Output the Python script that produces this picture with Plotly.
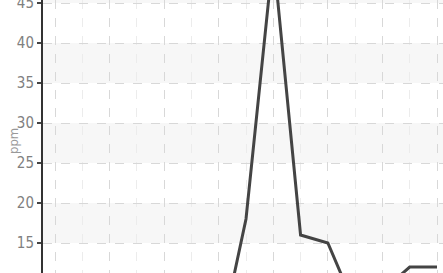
import plotly.graph_objects as go

# data (index positions along hidden x axis)
x_idx = list(range(15))
ppm = [3, 4, 3, 2, 3, 2, 2, 18, 51, 16, 15, 7, 9, 12, 12]
y_ticks = [15, 20, 25, 30, 35, 40, 45]
band_edges = [(15, 20), (25, 30), (35, 40), (45, 50), (5, 10)]

fig = go.Figure()
fig.add_trace(go.Scatter(
    x=x_idx, y=ppm, mode="lines",
    line=dict(color="#444444", width=3),
    hoverinfo="skip", showlegend=False,
))

for lo, hi in band_edges:
    fig.add_shape(type="rect", xref="paper", yref="y", x0=0, x1=1, y0=lo, y1=hi,
                  fillcolor="#f7f7f7", line_width=0, layer="below")

fig.add_annotation(text="ppm", xref="paper", yref="paper", x=-29 / 400, y=(273 - 141) / 273,
                   xanchor="center", yanchor="middle", textangle=-90, showarrow=False,
                   font=dict(size=13, color="#999999",
                             family="Liberation Sans Narrow, DejaVu Sans Condensed, sans-serif"))

fig.update_layout(
    width=443, height=273,
    margin=dict(l=43, r=0, t=0, b=0, autoexpand=False),
    paper_bgcolor="white", plot_bgcolor="white",
    font=dict(family="Liberation Sans Narrow, DejaVu Sans Condensed, sans-serif", color="#888888"),
)
fig.update_xaxes(
    range=[-0.44, 14.22], showticklabels=False, zeroline=False, automargin=False,
    tick0=0, dtick=2, showgrid=True, gridcolor="#d8d8d8", griddash="dash", gridwidth=1,
    minor=dict(tick0=1, dtick=2, showgrid=True, gridcolor="#ececec", griddash="dash", gridwidth=1),
    ticks="",
)
fig.update_yaxes(
    range=[11.25, 45.375], tickvals=y_ticks, ticks="outside", ticklen=4, tickwidth=2,
    tickcolor="#444444", showline=True, linecolor="#333333", linewidth=2,
    showgrid=True, gridcolor="#d8d8d8", griddash="dash", gridwidth=1, zeroline=False,
    automargin=False, ticklabeloverflow="allow",
    tickfont=dict(size=15, color="#808080"),
)
fig.write_html("out.html", config={"displayModeBar": False},
               post_script="document.body.style.margin='0';document.body.style.overflow='hidden';")
